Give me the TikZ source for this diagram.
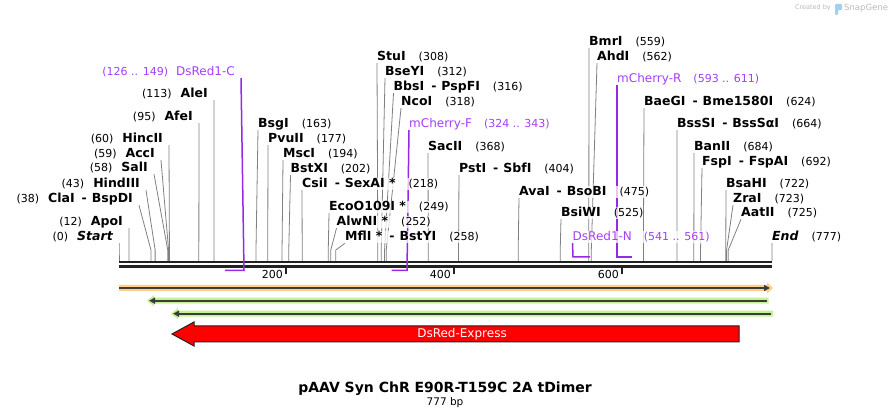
\documentclass[tikz,border=0pt]{standalone}
\usepackage{fontspec}
\setmainfont{DejaVu Sans}
\usetikzlibrary{arrows.meta, backgrounds}
\definecolor{siteGray}{RGB}{128,128,128}
\definecolor{bbDark}{RGB}{34,34,34}
\definecolor{primerText}{RGB}{163,63,247}
\definecolor{primerLine}{RGB}{150,40,230}
\definecolor{featOrange}{RGB}{255,206,135}
\definecolor{featGreen}{RGB}{197,242,145}
\definecolor{featLine}{RGB}{60,60,60}
\definecolor{markGray}{RGB}{185,185,185}
\definecolor{logoBlue}{RGB}{160,210,240}
\newcommand{\enz}[1]{{\fontsize{12.5}{14}\selectfont\bfseries #1}}
\newcommand{\enzdash}{\hspace{7pt}-\hspace{5pt}}

\begin{document}
\begin{tikzpicture}[x=1pt, y=-1pt,
  lbl/.style={font=\fontsize{11}{13}\selectfont, inner xsep=0pt, inner ysep=1pt, text height=9pt, text depth=1pt,
    fill=white, fill opacity=0.75, text opacity=1},
  lblL/.style={lbl, anchor=base east, inner xsep=6pt},
  lblR/.style={lbl, anchor=base west},
  primer/.style={text=primerText},
  site/.style={draw=siteGray, line width=0.8pt},
  primerline/.style={draw=primerLine, line width=1.5pt},
  backbone/.style={draw=bbDark, line width=2.4pt},
  tick/.style={draw=bbDark, line width=2pt},
  arrowline/.style={draw=featLine, line width=1.8pt}
]
\useasboundingbox (0,0) rectangle (892,419);

% enzyme sites, labels left of the line
\foreach \id/\bp/\lx/\by/\txt in {
  Start/0/119/241/{(0)\hspace{9pt}\enz{\itshape Start}},
  ApoI/12/129/226/{(12)\hspace{9pt}\enz{ApoI}},
  ClaI/38/139/203/{(38)\hspace{9pt}\enz{ClaI\enzdash BspDI}},
  HindIII/43/146/188/{(43)\hspace{9pt}\enz{HindIII}},
  SalI/58/154/172/{(58)\hspace{9pt}\enz{SalI}},
  AccI/59/161/158/{(59)\hspace{9pt}\enz{AccI}},
  HincII/60/169/143/{(60)\hspace{9pt}\enz{HincII}},
  AfeI/95/199/121/{(95)\hspace{9pt}\enz{AfeI}},
  AleI/113/214/98/{(113)\hspace{9pt}\enz{AleI}}%
}{
  \node[lblL] (\id) at (\lx,\by) {\txt};
  \coordinate (s\id) at ({119+0.8404*\bp},250);
  \begin{pgfonlayer}{background}
    \draw[site] (\id.south east) -- (s\id) -- ++(0,11);
  \end{pgfonlayer}
}

% enzyme sites, labels right of the line
\foreach \id/\bp/\lx/\by/\txt in {
  BsgI/163/258/128/{\enz{BsgI}\hspace{13pt}(163)},
  PvuII/177/268/143/{\enz{PvuII}\hspace{13pt}(177)},
  MscI/194/283/158/{\enz{MscI}\hspace{13pt}(194)},
  BstXI/202/290.5/173/{\enz{BstXI}\hspace{13pt}(202)},
  CsiI/218/302/188/{\enz{CsiI\enzdash SexAI *}\hspace{13pt}(218)},
  EcoOI/249/329/211/{\enz{EcoO109I *}\hspace{13pt}(249)},
  AlwNI/252/336.5/226/{\enz{AlwNI *}\hspace{13pt}(252)},
  MflI/258/345/241/{\enz{MflI *\enzdash BstYI}\hspace{13pt}(258)},
  StuI/308/377/61/{\enz{StuI}\hspace{13pt}(308)},
  BseYI/312/385/76/{\enz{BseYI}\hspace{13pt}(312)},
  BbsI/316/393.5/91/{\enz{BbsI\enzdash PspFI}\hspace{13pt}(316)},
  NcoI/318/401/106/{\enz{NcoI}\hspace{13pt}(318)},
  SacII/368/428/151/{\enz{SacII}\hspace{13pt}(368)},
  PstI/404/459/173/{\enz{PstI\enzdash SbfI}\hspace{13pt}(404)},
  AvaI/475/519/196/{\enz{AvaI\enzdash BsoBI}\hspace{13pt}(475)},
  BsiWI/525/561/217/{\enz{BsiWI}\hspace{13pt}(525)},
  BmrI/559/589/46/{\enz{BmrI}\hspace{13pt}(559)},
  AhdI/562/597/61/{\enz{AhdI}\hspace{13pt}(562)},
  BaeGI/624/644/106/{\enz{BaeGI\enzdash Bme1580I}\hspace{13pt}(624)},
  BssSI/664/677/128/{\enz{BssSI\enzdash BssSαI}\hspace{13pt}(664)},
  BanII/684/694/151/{\enz{BanII}\hspace{13pt}(684)},
  FspI/692/702/166/{\enz{FspI\enzdash FspAI}\hspace{13pt}(692)},
  BsaHI/722/726/188/{\enz{BsaHI}\hspace{13pt}(722)},
  ZraI/723/733/203/{\enz{ZraI}\hspace{13pt}(723)},
  AatII/725/741/217/{\enz{AatII}\hspace{13pt}(725)},
  End/777/772/241/{\enz{\itshape End}\hspace{13pt}(777)}%
}{
  \node[lblR] (\id) at (\lx,\by) {\txt};
  \coordinate (s\id) at ({119+0.8404*\bp},250);
  \begin{pgfonlayer}{background}
    \draw[site] (\id.south west) -- (s\id) -- ++(0,11);
  \end{pgfonlayer}
}

% primers
\node[lblL, primer] (DsRedC) at (241,76) {(126 .. 149)\hspace{8pt}{\fontsize{12}{14}\selectfont DsRed1-C}};
\node[lblR, primer] (mCherryF) at (409,128) {{\fontsize{12}{14}\selectfont mCherry-F}\hspace{12pt}(324 .. 343)};
\node[lblR, primer] (DsRedN) at (572.5,241) {{\fontsize{12}{14}\selectfont DsRed1-N}\hspace{12pt}(541 .. 561)};
\node[lblR, primer] (mCherryR) at (617,83) {{\fontsize{12}{14}\selectfont mCherry-R}\hspace{12pt}(593 .. 611)};
\coordinate (DsRedCa) at (244,270.5);
\coordinate (DsRedCb) at (225,270.5);
\coordinate (mCherryFa) at (407,270.5);
\coordinate (mCherryFb) at (391.5,270.5);
\coordinate (DsRedNa) at (573,257);
\coordinate (DsRedNb) at (590,257);
\coordinate (mCherryRa) at (617,257);
\coordinate (mCherryRb) at (632,257);

\begin{pgfonlayer}{background}
% backbone and ruler
\draw[backbone] (119,262) -- (772,262);
\draw[backbone] (119,266.5) -- (772,266.5);
\draw[primerline] (DsRedC.south east) -- (DsRedCa) -- (DsRedCb);
\draw[primerline] (mCherryF.south west) -- (mCherryFa) -- (mCherryFb);
\draw[primerline] (DsRedN.south west) -- (DsRedNa) -- (DsRedNb);
\draw[primerline] (mCherryR.south west) -- (mCherryRa) -- (mCherryRb);
\end{pgfonlayer}
\foreach \t/\x in {200/286, 400/454, 600/622}{
  \draw[tick] (\x,267) -- (\x,274.5);
  \node[anchor=east, inner sep=0pt, font=\fontsize{11}{13}\selectfont] (tick\t) at (\x-3,274) {\t};
}

% features
\fill[featOrange] (119,285) -- (767,285) -- (767,282.5) -- (773,288) -- (767,293.5) -- (767,291) -- (119,291) -- cycle;
\draw[arrowline, -{Triangle[length=6pt,width=6pt]}] (119,288) -- (770,288);

\fill[featGreen] (768.5,297.7) -- (154,297.7) -- (154,295) -- (147,300.7) -- (154,306.4) -- (154,303.7) -- (768.5,303.7) -- cycle;
\draw[arrowline, -{Triangle[length=6pt,width=6pt]}] (767,300.7) -- (149,300.7);

\fill[featGreen] (773,310.7) -- (178,310.7) -- (178,308) -- (171,313.7) -- (178,319.4) -- (178,316.7) -- (773,316.7) -- cycle;
\draw[arrowline, -{Triangle[length=6pt,width=6pt]}] (771,313.7) -- (173,313.7);

\draw[draw=bbDark, fill=red, line width=1pt] (172,334) -- (194,322) -- (194,326) -- (739,326) -- (739,342) -- (194,342) -- (194,346) -- cycle;
\node[text=white, font=\fontsize{12}{14}\selectfont] (dsred) at (462,334) {DsRed-Express};

% title
\node[font=\fontsize{14}{16}\selectfont\bfseries] (title) at (445,389) {pAAV Syn ChR E90R-T159C 2A tDimer};
\node[font=\fontsize{10.5}{12}\selectfont] (size) at (445,403) {777 bp};

% watermark
\node[anchor=east, inner sep=0pt, text=markGray, font=\fontsize{6.5}{8}\selectfont] (madeby) at (831,8) {Created by};
\fill[logoBlue, rounded corners=1pt] (835,15) -- (835,4) -- (842,4) -- (842,10) -- (838,10) -- (838,15) -- cycle;
\node[anchor=west, inner sep=0pt, text=markGray, font=\fontsize{8.5}{10}\selectfont] (snapgene) at (844,8) {SnapGene};
\end{tikzpicture}
\end{document}
